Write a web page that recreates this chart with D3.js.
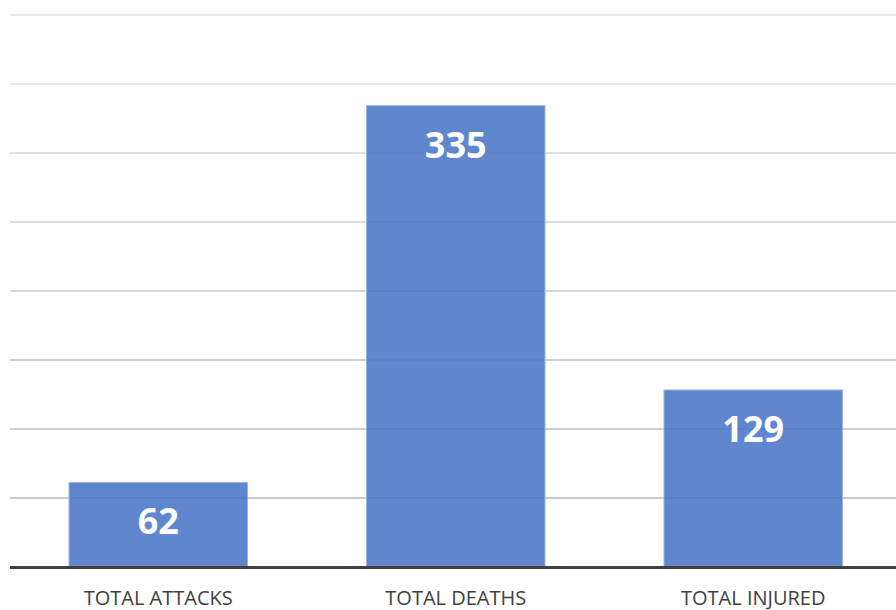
<!DOCTYPE html>
<html>
<head>
<meta charset="utf-8">
<script src="https://cdn.jsdelivr.net/npm/d3@7"></script>
<style>
  body { margin: 0; background: #fff; }
</style>
</head>
<body>
<div class="chart"></div>
<script>
var categories = ["TOTAL ATTACKS", "TOTAL DEATHS", "TOTAL INJURED"];
var values = [62, 335, 129];
var gridTicks = [50, 100, 150, 200, 250, 300, 350, 400];

var width = 896, height = 610;

var svg = d3.select(".chart")
  .append("svg")
    .attr("width", width)
    .attr("height", height);

var x = d3.scaleBand()
  .domain(categories)
  .range([9.5, 902])
  .paddingInner(0.4)
  .paddingOuter(0.2);

var y = d3.scaleLinear()
  .domain([0, 400])
  .range([567, 15]);

// gridlines, a touch darker toward the bottom
var gridColour = d3.scaleLinear().domain([400, 50]).range(["#e2e2e2", "#b8b8b8"]);
svg.selectAll(".grid")
  .data(gridTicks)
  .enter()
  .append("line")
    .attr("x1", 10)
    .attr("x2", width)
    .attr("y1", d => y(d))
    .attr("y2", d => y(d))
    .style("stroke", d => gridColour(d))
    .style("stroke-width", 1.3);

var data = categories.map((c, i) => ({ name: c, value: values[i] }));

svg.selectAll(".bar")
  .data(data)
  .enter()
  .append("rect")
    .attr("x", d => x(d.name))
    .attr("y", d => y(d.value) + 1)
    .attr("width", x.bandwidth())
    .attr("height", d => y(0) - y(d.value) - 1)
    .style("fill", "#4472C4")
    .style("fill-opacity", 0.85)
    .style("stroke", "#9bb3e0")
    .style("stroke-width", 1);

svg.selectAll(".val")
  .data(data)
  .enter()
  .append("text")
    .attr("x", d => x(d.name) + x.bandwidth() / 2)
    .attr("y", d => y(d.value) + 53)
    .attr("text-anchor", "middle")
    .style("font-family", "Open Sans")
    .style("font-weight", "bold")
    .style("font-size", "36px")
    .style("fill", "#fff")
    .text(d => d.value);

// axis baseline
svg.append("line")
  .attr("x1", 10)
  .attr("x2", width)
  .attr("y1", y(0) + 0.5)
  .attr("y2", y(0) + 0.5)
  .style("stroke", "#404040")
  .style("stroke-width", 3);

svg.selectAll(".cat")
  .data(categories)
  .enter()
  .append("text")
    .attr("x", d => x(d) + x.bandwidth() / 2)
    .attr("y", 605)
    .attr("text-anchor", "middle")
    .style("font-family", "Open Sans")
    .style("font-size", "20px")
    .style("fill", "#404040")
    .text(d => d);
</script>
</body>
</html>
